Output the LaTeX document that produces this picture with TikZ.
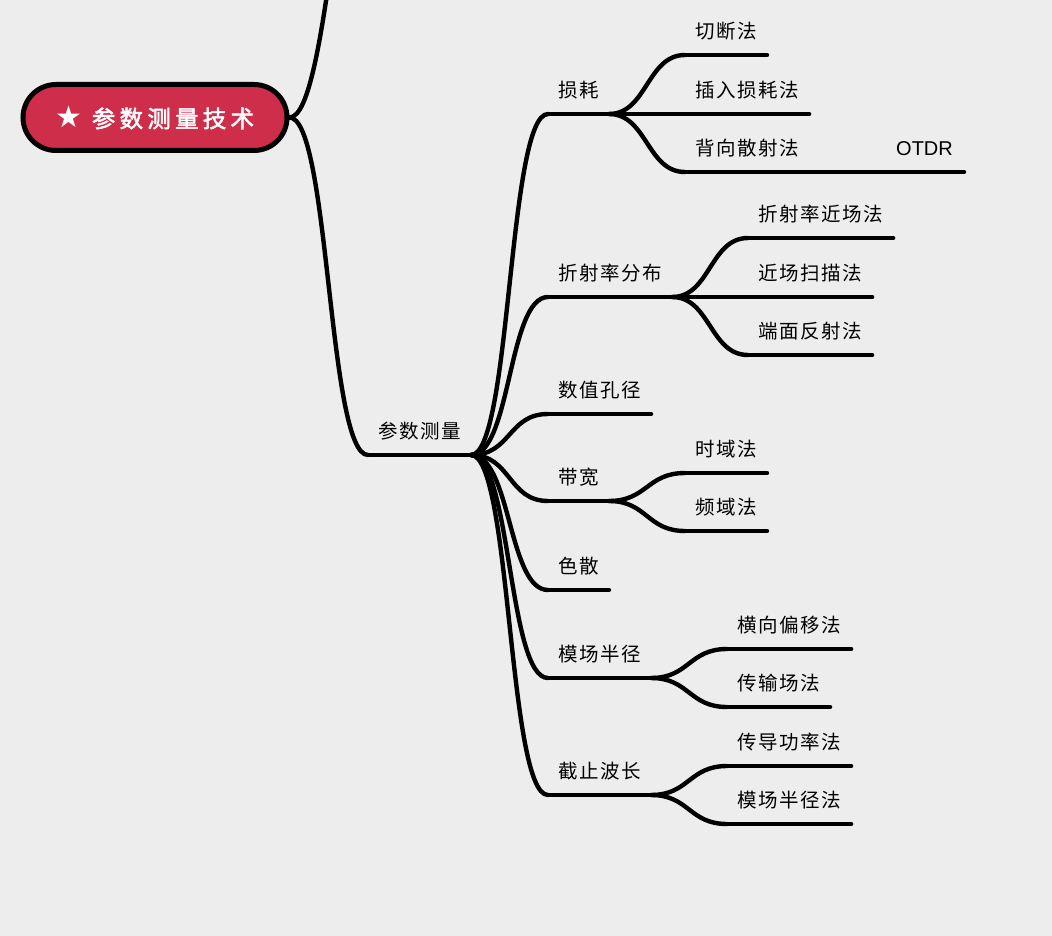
\documentclass[tikz,border=0pt]{standalone}
\usepackage{fontspec}
\newfontfamily\cjk[LetterSpace=8]{Noto Sans CJK SC}
\newfontfamily\cjkbf[LetterSpace=18,FakeBold=2.2]{Noto Sans CJK SC}
\newfontfamily\latn{Liberation Sans}
\newfontfamily\symb{DejaVu Sans}
\definecolor{bg}{HTML}{EDEDED}
\definecolor{rootred}{HTML}{CF2E4A}
\begin{document}
\begin{tikzpicture}[x=1pt,y=-1pt,
  topic/.style={font=\cjk\fontsize{19.5}{22}\selectfont, inner xsep=10pt, inner ysep=16pt,
    text height=16pt, text depth=0pt, anchor=south west},
  latin/.style={font=\latn\fontsize{20}{22}\selectfont, inner xsep=11pt, inner ysep=16pt,
    text height=15pt, text depth=0pt, anchor=south west},
  ul/.style={line width=4.4pt, line cap=round},
  conn/.style={line width=4.4pt, line cap=round},
  rootbox/.style={draw=black, line width=5pt, fill=rootred, rounded corners=33pt,
    minimum width=264pt, minimum height=66pt, text=white, inner sep=0pt}
]
\clip (0,0) rectangle (1052,936);
\fill[bg] (0,0) rectangle (1052,936);

% root
\node[rootbox] (root) at (155,117.5)
  {{\symb\fontsize{30}{30}\selectfont ★}\hspace{9pt}{\cjkbf\fontsize{23.5}{26}\selectfont 参数测量技术}};
\coordinate (upper) at (378,-221);

% level 1
\node[topic] (cs) at (368,455) {参数测量};

% level 2
\node[topic] (sh) at (548,114) {损耗};
\node[topic] (zs) at (548,297) {折射率分布};
\node[topic] (sz) at (548,414) {数值孔径};
\node[topic] (dk) at (548,501) {带宽};
\node[topic] (ss) at (548,590) {色散};
\node[topic] (mc) at (548,678) {模场半径};
\node[topic] (jz) at (548,795) {截止波长};

% level 3
\node[topic] (qd) at (685,55) {切断法};
\node[topic] (cr) at (685,114) {插入损耗法};
\node[topic] (bx) at (685,172) {背向散射法};
\node[latin] (otdr) at (885,172) {OTDR};

\node[topic] (zj) at (748,238) {折射率近场法};
\node[topic] (jc) at (748,297) {近场扫描法};
\node[topic] (dm) at (748,355) {端面反射法};

\node[topic] (sy) at (685,473) {时域法};
\node[topic] (py) at (685,531) {频域法};

\node[topic] (hx) at (727,649) {横向偏移法};
\node[topic] (cs2) at (727,707) {传输场法};

\node[topic] (cd) at (727,766) {传导功率法};
\node[topic] (mf) at (727,824) {模场半径法};

% underlines
\foreach \n in {cs,sh,zs,sz,dk,ss,mc,jz,qd,cr,bx,otdr,zj,jc,dm,sy,py,hx,cs2,cd,mf}
  \draw[ul] (\n.south west) -- (\n.south east);

% connectors
\draw[conn] (root.east) .. controls +(40,0) and +(-40,0) .. (upper);
\draw[conn] (root.east) .. controls +(40,0) and +(-40,0) .. (cs.south west);
\foreach \c in {sh,zs,sz,dk,ss,mc,jz}
  \draw[conn] (cs.south east) .. controls +(40,0) and +(-40,0) .. (\c.south west);
\foreach \c in {qd,cr,bx}
  \draw[conn] (sh.south east) .. controls +(38,0) and +(-38,0) .. (\c.south west);
\draw[conn] (bx.south east) -- (otdr.south west);
\foreach \c in {zj,jc,dm}
  \draw[conn] (zs.south east) .. controls +(38,0) and +(-38,0) .. (\c.south west);
\foreach \c in {sy,py}
  \draw[conn] (dk.south east) .. controls +(38,0) and +(-38,0) .. (\c.south west);
\foreach \c in {hx,cs2}
  \draw[conn] (mc.south east) .. controls +(38,0) and +(-38,0) .. (\c.south west);
\foreach \c in {cd,mf}
  \draw[conn] (jz.south east) .. controls +(38,0) and +(-38,0) .. (\c.south west);
\end{tikzpicture}
\end{document}
